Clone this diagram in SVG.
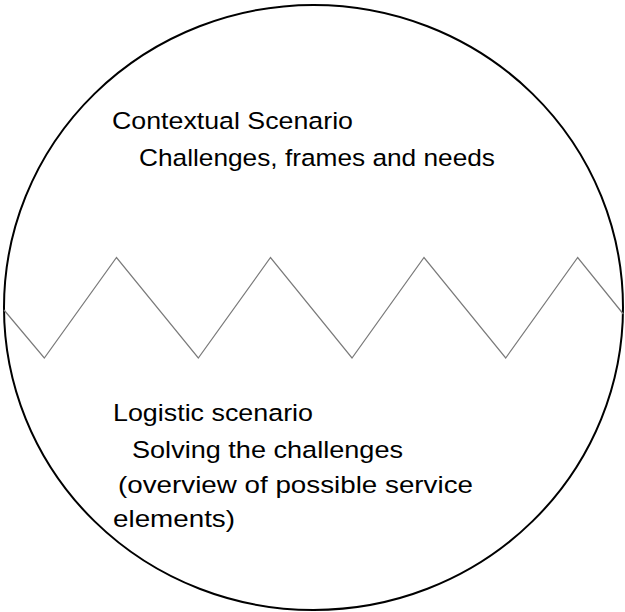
<svg xmlns="http://www.w3.org/2000/svg" width="625" height="612" viewBox="0 0 625 612">
<style>
.t{font-family:"Liberation Sans",Arial,sans-serif;font-size:24.5px;fill:#000}
.zig{fill:none;stroke:#7a7a7a;stroke-width:1.2;stroke-linejoin:miter}
</style>
<rect width="625" height="612" fill="#fff"/>
<g id="circle">
<ellipse cx="313.5" cy="307.5" rx="309.5" ry="302.5" fill="none" stroke="#000" stroke-width="2"/>
</g>
<g id="connectors">
<polyline class="zig" points="4,310 44.3,358 116.5,257.5 198.3,358 270.5,257.5 352,358 424,257.5 505.7,358 577.7,257.5 623.3,314"/>
</g>
<g id="top-text">
<text class="t" x="112" y="129" textLength="241" lengthAdjust="spacingAndGlyphs">Contextual Scenario</text>
<text class="t" x="139" y="166" textLength="356" lengthAdjust="spacingAndGlyphs">Challenges, frames and needs</text>
</g>
<g id="bottom-text">
<text class="t" x="113" y="421" textLength="200" lengthAdjust="spacingAndGlyphs">Logistic scenario</text>
<text class="t" x="132" y="457.5" textLength="271" lengthAdjust="spacingAndGlyphs">Solving the challenges</text>
<text class="t" x="118" y="493" textLength="355" lengthAdjust="spacingAndGlyphs">(overview of possible service</text>
<text class="t" x="113" y="527" textLength="122" lengthAdjust="spacingAndGlyphs">elements)</text>
</g>
</svg>
